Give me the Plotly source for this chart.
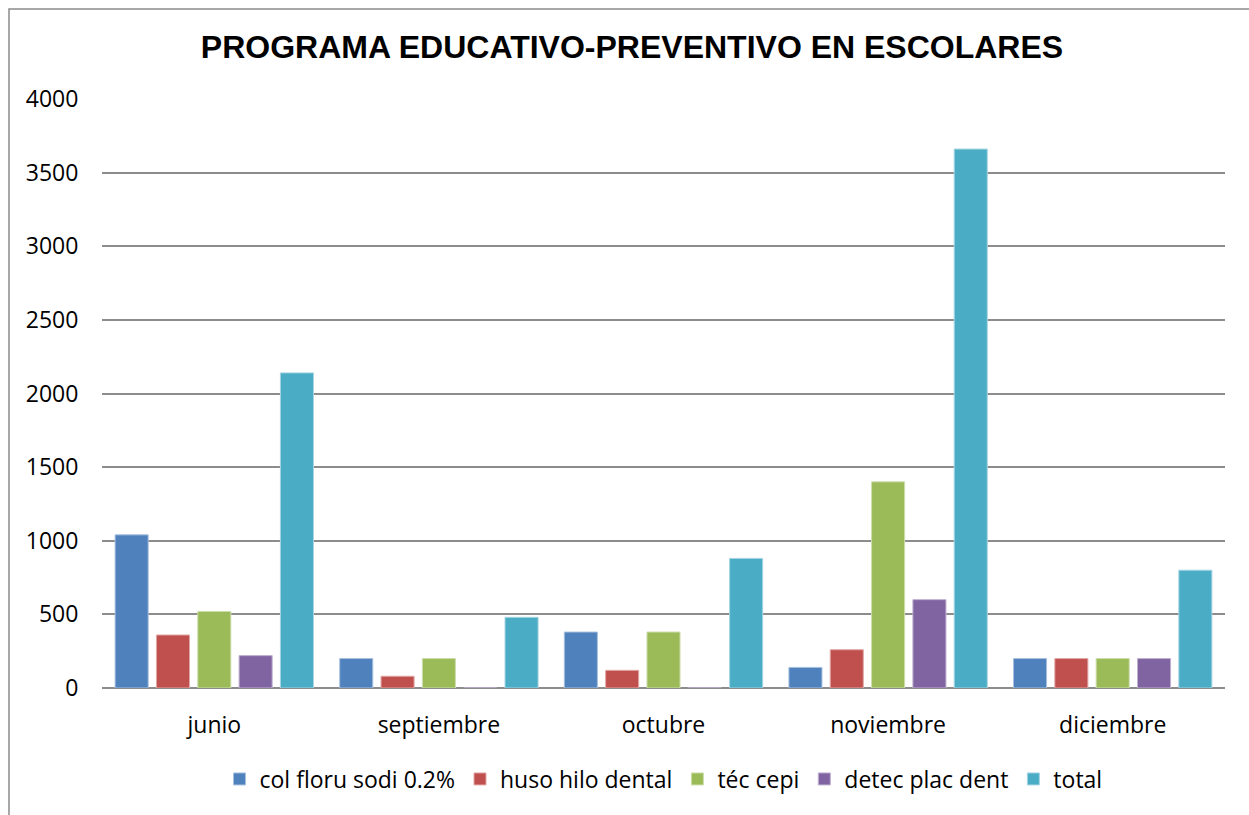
import plotly.graph_objects as go

months = ["junio", "septiembre", "octubre", "noviembre", "diciembre"]

col_floru_sodi = [1040, 200, 380, 140, 200]
huso_hilo_dental = [360, 80, 120, 260, 200]
tec_cepi = [520, 200, 380, 1400, 200]
detec_plac_dent = [220, 0, 0, 600, 200]
total = [2140, 480, 880, 3660, 800]

series = [
    ("col floru sodi 0.2%", col_floru_sodi, "#4F81BD", "#A7C0DE"),
    ("huso hilo dental", huso_hilo_dental, "#C0504D", "#E0A8A6"),
    ("téc cepi", tec_cepi, "#9BBB59", "#CDDDAC"),
    ("detec plac dent", detec_plac_dent, "#8064A2", "#BFB1D0"),
    ("total", total, "#4BACC6", "#A5D5E2"),
]

W, H = 1249, 815
L, R, T, B = 102, 24, 99, 127
pw, ph = W - L - R, H - T - B

fig = go.Figure()
for name, vals, color, edge in series:
    fig.add_trace(go.Bar(
        name=name, x=months, y=vals,
        marker=dict(color=color, line=dict(color=edge, width=1)),
    ))

font = "Open Sans, Lato, sans-serif"

fig.update_layout(
    width=W, height=H,
    margin=dict(l=L, r=R, t=T, b=B),
    paper_bgcolor="white", plot_bgcolor="white",
    barmode="group", bargap=0.08, bargroupgap=0.2,
    title=dict(
        text="<b>PROGRAMA EDUCATIVO-PREVENTIVO EN ESCOLARES</b>",
        font=dict(family="Liberation Sans, Arial, sans-serif", size=32, color="black"),
        x=632 / W, xanchor="center", y=1 - 47 / H, yanchor="middle",
    ),
    font=dict(family=font, size=23, color="black"),
    showlegend=True,
    legend=dict(
        orientation="h", x=0.5, xanchor="center",
        y=(688 - 779) / ph, yanchor="middle",
        font=dict(family=font, size=23, color="black"),
        itemwidth=30, tracegroupgap=0,
    ),
    xaxis=dict(
        showgrid=False, showline=False, zeroline=False,
        ticks="outside", ticklen=16, tickcolor="rgba(0,0,0,0)",
        tickfont=dict(family=font, size=23, color="black"),
    ),
    yaxis=dict(
        range=[0, 4000], tick0=0, dtick=500,
        showgrid=True, gridcolor="#8C8C8C", gridwidth=1.5,
        zeroline=True, zerolinecolor="#8C8C8C", zerolinewidth=1.5,
        showline=False,
        ticks="outside", ticklen=18, tickcolor="rgba(0,0,0,0)",
        tickfont=dict(family=font, size=23, color="black"),
    ),
    shapes=[dict(
        type="rect", xref="paper", yref="paper",
        x0=(9 - L) / pw, x1=(W + 20 - L) / pw,
        y0=-(B + 20) / ph, y1=1 + (T - 9) / ph,
        line=dict(color="#8C8C8C", width=1.5), fillcolor="rgba(0,0,0,0)",
        layer="below",
    )],
)

fig.write_html("out.html")
